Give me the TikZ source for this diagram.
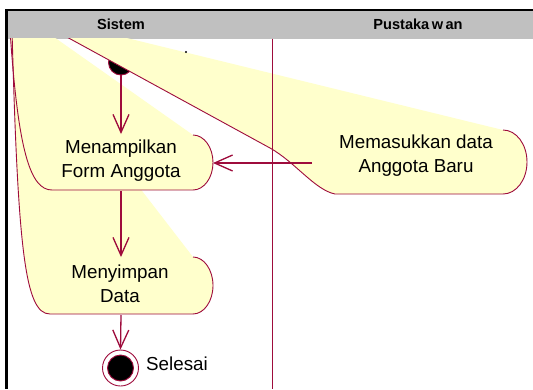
\documentclass[tikz,border=0pt]{standalone}
\usepackage{fontspec}
\setmainfont{Liberation Sans}
\usetikzlibrary{arrows.meta}
\definecolor{rose}{RGB}{158,12,60}
\definecolor{actfill}{RGB}{255,255,204}
\definecolor{headgray}{RGB}{192,192,192}
\begin{document}
\begin{tikzpicture}[x=1pt,y=-1pt,
  outline/.style={draw=rose, line width=0.9pt},
  flow/.style={draw=rose, line width=1.3pt,
    -{Straight Barb[length=18pt,width=16pt,line width=1.3pt]}},
  label/.style={font=\fontsize{18.8}{24}\selectfont, align=center, inner sep=0pt, text=black},
  headlabel/.style={font=\fontsize{14.6}{16}\selectfont\bfseries, inner sep=0pt}]
\useasboundingbox (0,0) rectangle (533,389);
\fill[white] (0,0) rectangle (533,389);

% swimlane header and frame
\fill[headgray] (7,10) rectangle (533,38.5);
\draw[black, line width=2pt] (5.2,10) -- (533,10);
\draw[black, line width=2.4pt] (6.3,9) -- (6.3,389);
\node[headlabel] (hSistem) at (121,24.5) {Sistem};
\node[headlabel] (hPustaka) at (418,24.5) {Pustaka\,w\,an};

% initial state
\node[circle, fill=black, draw=rose, line width=0.9pt, minimum size=25pt, inner sep=0pt] (start) at (121,62.5) {};

\begin{scope}
\clip (7.5,38.5) rectangle (533,389);
% activity fills
\fill[actfill] (12,30) -- (18,30) -- (193,257)
  .. controls (204,257) and (213,269.8) .. (213,285.5)
  .. controls (213,301.2) and (204,314) .. (193,314)
  -- (50,314) .. controls (25,314) and (18,250) .. (12,30) -- cycle;
\fill[actfill] (10,30) -- (44,30) -- (193,135)
  .. controls (204,135) and (213,147.3) .. (213,162.5)
  .. controls (213,177.7) and (204,190) .. (193,190)
  -- (52,190) .. controls (30,190) and (18,150) .. (10,30) -- cycle;
\fill[actfill] (54,30) -- (94,30) -- (503,130)
  .. controls (516.3,130) and (527,144.3) .. (527,162)
  .. controls (527,179.7) and (516.3,194) .. (503,194)
  -- (335,194) .. controls (315,190) and (295,162) .. (270,148) -- (54,30) -- cycle;
% activity outlines
\draw[outline] (193,314)
  .. controls (204,314) and (213,301.2) .. (213,285.5)
  .. controls (213,269.8) and (204,257) .. (193,257);
\draw[outline] (193,314) -- (50,314) .. controls (25,314) and (18,250) .. (12,30);
\draw[outline] (193,135)
  .. controls (204,135) and (213,147.3) .. (213,162.5)
  .. controls (213,177.7) and (204,190) .. (193,190)
  -- (52,190) .. controls (30,190) and (18,150) .. (10,30);
\draw[outline] (503,130)
  .. controls (516.3,130) and (527,144.3) .. (527,162)
  .. controls (527,179.7) and (516.3,194) .. (503,194)
  -- (335,194) .. controls (315,190) and (295,162) .. (270,148) -- (54,30);
\end{scope}

% lane divider
\draw[rose, line width=1pt] (272.5,38.5) -- (272.5,389);

% activity labels
\node[label] (tTampil) at (121,160.5) {Menampilkan\\Form Anggota};
\node[label] (tSimpan) at (120,284) {Menyimpan\\Data};
\node[label] (tMasuk) at (416,156) {Memasukkan data\\Anggota Baru};

% final state
\node[circle, draw=rose, line width=0.9pt, fill=white, minimum size=36pt, inner sep=0pt] (final) at (120.5,368) {};
\node[circle, fill=black, draw=rose, line width=0.9pt, minimum size=26pt, inner sep=0pt] (finalDot) at (final) {};
\node[label, anchor=west] (tSelesai) at (146,363.5) {Selesai};
\fill[black] (186,52) circle (1.1pt);

% anchor points on the activities
\coordinate (tampilTop) at (121,134);
\coordinate (tampilBottom) at (121,191);
\coordinate (tampilRight) at (213,163);
\coordinate (simpanTop) at (121,257);
\coordinate (simpanBottom) at (121,315);
\coordinate (masukLeft) at (312,163);

% transitions
\draw[flow] (start.south) -- (tampilTop);
\draw[flow] (tampilBottom) -- (simpanTop);
\draw[flow] (simpanBottom) -- (final.north);
\draw[flow] (masukLeft) -- (tampilRight);
\end{tikzpicture}
\end{document}
